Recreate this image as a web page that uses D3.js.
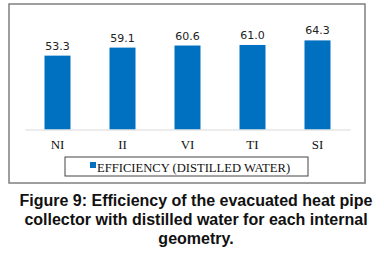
<!DOCTYPE html>
<html lang="en">
  <head>
    <meta charset="UTF-8" />
    <title>Efficiency chart</title>
    <script src="https://cdn.jsdelivr.net/npm/d3@7"></script>
    <style>
      body { margin: 0; background: #fff; }
      svg { display: block; }
    </style>
  </head>
  <body>
    <svg width="384" height="258"></svg>
    <script>
      // data
      const geometries = ["NI", "II", "VI", "TI", "SI"];
      const efficiency = [53.3, 59.1, 60.6, 61.0, 64.3];
      const seriesName = "EFFICIENCY (DISTILLED WATER)";
      const captionLines = [
        "Figure 9: Efficiency of the evacuated heat pipe",
        "collector with distilled water for each internal",
        "geometry."
      ];

      const svg = d3.select("svg");

      // chart frame
      svg.append("rect")
        .attr("x", 9).attr("y", 4)
        .attr("width", 356).attr("height", 179)
        .attr("fill", "#fff")
        .attr("stroke", "#7f7f7f")
        .attr("stroke-width", 1.5);

      const x = d3.scaleBand()
        .domain(geometries)
        .range([25, 350])
        .paddingInner(0.6)
        .paddingOuter(0.3);

      const y = d3.scaleLinear()
        .domain([0, 70])
        .range([129.5, 32.5]);

      const g = svg.append("g");

      g.selectAll("rect.bar")
        .data(efficiency)
        .enter()
        .append("rect")
        .attr("class", "bar")
        .attr("x", (d, i) => x(geometries[i]))
        .attr("y", d => y(d))
        .attr("width", x.bandwidth())
        .attr("height", d => y(0) - y(d))
        .attr("fill", "#0070c0");

      // value labels
      g.selectAll("text.val")
        .data(efficiency)
        .enter()
        .append("text")
        .attr("class", "val")
        .attr("x", (d, i) => x(geometries[i]) + x.bandwidth() / 2)
        .attr("y", d => y(d) - 6)
        .attr("text-anchor", "middle")
        .attr("font-family", "'DejaVu Sans', sans-serif")
        .attr("font-size", 11)
        .attr("fill", "#222")
        .text(d => d.toFixed(1));

      // x axis
      const xAxis = svg.append("g")
        .attr("transform", "translate(0," + y(0) + ")")
        .call(d3.axisBottom(x).tickSize(0).tickPadding(10));
      xAxis.select(".domain").attr("stroke", "#d9d9d9").attr("stroke-width", 1);
      xAxis.selectAll("text")
        .attr("font-family", "'Liberation Serif', 'Times New Roman', serif")
        .attr("font-size", 13)
        .attr("fill", "#111");

      // legend
      const legend = svg.append("g");
      legend.append("rect")
        .attr("x", 65).attr("y", 157)
        .attr("width", 243).attr("height", 19)
        .attr("fill", "#fff")
        .attr("stroke", "#444")
        .attr("stroke-width", 1);
      legend.append("rect")
        .attr("x", 90).attr("y", 162)
        .attr("width", 6).attr("height", 6)
        .attr("fill", "#0070c0");
      legend.append("text")
        .attr("x", 97).attr("y", 171.5)
        .attr("font-family", "'Liberation Serif', 'Times New Roman', serif")
        .attr("font-size", 12.6)
        .attr("fill", "#111")
        .text(seriesName);

      // caption
      svg.append("g").selectAll("text")
        .data(captionLines)
        .enter()
        .append("text")
        .attr("x", 196)
        .attr("y", (d, i) => 206 + i * 19)
        .attr("text-anchor", "middle")
        .attr("font-family", "'Liberation Sans', Arial, sans-serif")
        .attr("font-weight", "bold")
        .attr("font-size", 16)
        .attr("fill", "#111")
        .text(d => d);
    </script>
  </body>
</html>
